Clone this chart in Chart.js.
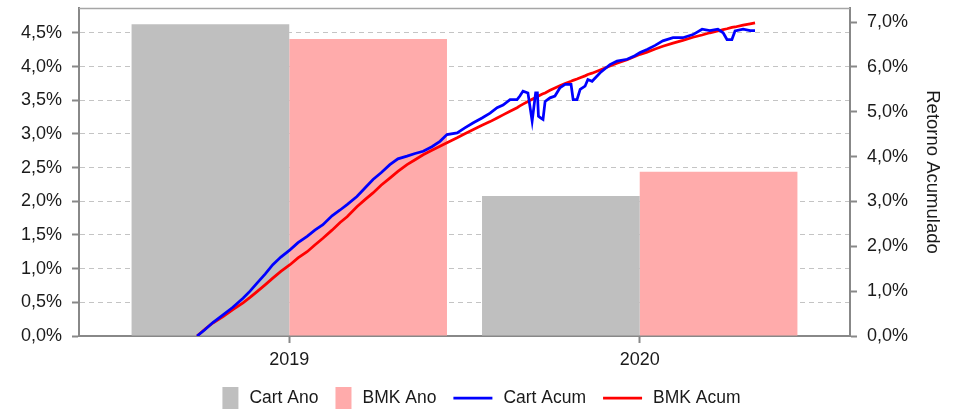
<!DOCTYPE html>
<html><head><meta charset="utf-8">
<script src="https://cdn.jsdelivr.net/npm/chart.js@4.4.1/dist/chart.umd.min.js"></script>
<style>html,body{margin:0;padding:0;background:#fff;}#wrap{width:957px;height:409px;}</style>
</head><body><div id="wrap"><canvas id="c" width="957" height="409"></canvas></div>
<script>
// ---- data ----
const years = [2019, 2020];
const cartAno = [4.63, 2.08];
const bmkAno = [4.41, 2.44];
const leftTicks = [0, 0.5, 1, 1.5, 2, 2.5, 3, 3.5, 4, 4.5];
const rightTicks = [0, 1, 2, 3, 4, 5, 6, 7];
// dates as fractional years
const lineDates = [2018.737,2018.759,2018.782,2018.811,2018.839,2018.868,2018.888,2018.908,2018.931,2018.953,2018.976,
2019.002,2019.025,2019.051,2019.073,2019.096,2019.122,2019.145,2019.165,2019.193,2019.216,2019.239,2019.262,2019.287,
2019.310,2019.336,2019.359,2019.382,2019.407,2019.430,2019.450,2019.479,2019.501,2019.524,2019.550,2019.573,2019.593,
2019.610,2019.630,2019.650,2019.658,2019.667,2019.681,2019.693,2019.703,2019.708,2019.711,2019.718,2019.724,2019.730,
2019.744,2019.758,2019.772,2019.787,2019.804,2019.810,2019.821,2019.830,2019.844,2019.852,2019.864,2019.887,2019.915,
2019.935,2019.964,2019.986,2020.001,2020.021,2020.044,2020.066,2020.095,2020.123,2020.152,2020.178,2020.200,2020.223,
2020.238,2020.249,2020.263,2020.272,2020.295,2020.315,2020.329];
const cartAcum = [0.00,0.14,0.30,0.47,0.64,0.84,1.00,1.18,1.38,1.59,1.76,
1.92,2.08,2.22,2.36,2.48,2.68,2.81,2.93,3.11,3.30,3.49,3.64,3.82,
3.95,4.01,4.07,4.12,4.22,4.34,4.49,4.53,4.64,4.75,4.86,4.97,5.09,
5.15,5.27,5.27,5.35,5.46,5.42,4.79,5.42,5.42,4.90,4.86,4.83,5.23,
5.31,5.35,5.53,5.61,5.61,5.27,5.27,5.50,5.57,5.72,5.68,5.87,6.05,
6.13,6.17,6.25,6.32,6.39,6.48,6.58,6.65,6.65,6.72,6.84,6.81,6.84,
6.76,6.61,6.61,6.80,6.84,6.81,6.81];
const bmkAcum = [0.00,0.15,0.29,0.43,0.59,0.74,0.86,0.99,1.14,1.29,1.44,
1.59,1.74,1.88,2.03,2.18,2.36,2.53,2.66,2.88,3.04,3.19,3.36,3.52,
3.67,3.82,3.93,4.04,4.14,4.23,4.31,4.42,4.51,4.60,4.70,4.78,4.86,
4.93,5.01,5.09,5.13,5.17,5.23,5.28,5.32,5.34,5.35,5.38,5.40,5.42,
5.48,5.53,5.58,5.63,5.68,5.70,5.73,5.76,5.80,5.83,5.86,5.93,6.02,
6.08,6.16,6.23,6.28,6.33,6.40,6.46,6.53,6.59,6.66,6.71,6.76,6.80,
6.83,6.85,6.88,6.89,6.93,6.96,6.98];

const FONT = '"Liberation Sans", Arial, sans-serif';
const AXIS = '#888888';
const TXT = '#1a1a1a';
const pct = v => Number(v).toFixed(1).replace('.', ',') + '%';
const noPad = s => { s.paddingTop = 0; s.paddingBottom = 0; s.paddingLeft = 0; s.paddingRight = 0; };

const frameAndLegend = {
  id: 'frameAndLegend',
  afterDraw(chart) {
    const ctx = chart.ctx, a = chart.chartArea;
    ctx.save();
    ctx.strokeStyle = '#a6a6a6';
    ctx.lineWidth = 1.5;
    ctx.beginPath();
    ctx.moveTo(a.left, a.top + 0.5);
    ctx.lineTo(a.right, a.top + 0.5);
    ctx.stroke();
    // legend
    ctx.font = '17.5px ' + FONT;
    ctx.textBaseline = 'middle';
    ctx.textAlign = 'left';
    const items = chart.data.datasets.map(ds => ({
      text: ds.label,
      line: ds.type === 'line',
      color: ds.type === 'line' ? ds.borderColor : ds.backgroundColor
    }));
    const boxW = 16, boxH = 22, lineW = 39, gapText = 11, gapItem = 17;
    let total = 0;
    items.forEach((it, i) => {
      it.sw = it.line ? lineW : boxW;
      it.tw = ctx.measureText(it.text).width;
      total += it.sw + gapText + it.tw + (i < items.length - 1 ? gapItem : 0);
    });
    let x = chart.width / 2 - total / 2 + 3;
    const cy = 398;
    items.forEach(it => {
      if (it.line) {
        ctx.strokeStyle = it.color;
        ctx.lineWidth = 2.75;
        ctx.beginPath();
        ctx.moveTo(x, cy);
        ctx.lineTo(x + it.sw, cy);
        ctx.stroke();
      } else {
        ctx.fillStyle = it.color;
        ctx.fillRect(x, cy - boxH / 2, it.sw, boxH);
      }
      x += it.sw + gapText;
      ctx.fillStyle = TXT;
      ctx.fillText(it.text, x, cy);
      x += it.tw + gapItem;
    });
    ctx.restore();
  }
};

new Chart(document.getElementById('c'), {
  type: 'bar',
  data: {
    datasets: [
      { type: 'bar', label: 'Cart Ano', data: years.map((y, i) => ({x: y, y: cartAno[i]})),
        backgroundColor: '#bfbfbf', xAxisID: 'x', yAxisID: 'y', order: 3,
        categoryPercentage: 0.9, barPercentage: 1.0 },
      { type: 'bar', label: 'BMK Ano', data: years.map((y, i) => ({x: y, y: bmkAno[i]})),
        backgroundColor: '#ffabab', xAxisID: 'x', yAxisID: 'y', order: 3,
        categoryPercentage: 0.9, barPercentage: 1.0 },
      { type: 'line', label: 'Cart Acum', data: lineDates.map((d, i) => ({x: d, y: cartAcum[i]})),
        borderColor: '#0000ff', backgroundColor: '#0000ff', borderWidth: 2.75, pointRadius: 0,
        tension: 0, fill: false, xAxisID: 'x', yAxisID: 'y1', order: 1 },
      { type: 'line', label: 'BMK Acum', data: lineDates.map((d, i) => ({x: d, y: bmkAcum[i]})),
        borderColor: '#ff0000', backgroundColor: '#ff0000', borderWidth: 2.75, pointRadius: 0,
        tension: 0, fill: false, xAxisID: 'x', yAxisID: 'y1', order: 2 }
    ]
  },
  options: {
    responsive: false,
    animation: false,
    events: [],
    layout: { padding: { top: 8, left: 0, right: 0, bottom: 0 } },
    plugins: { legend: { display: false }, tooltip: { enabled: false } },
    scales: {
      x: {
        type: 'linear', position: 'bottom', min: 2018.4, max: 2020.6, offset: false,
        afterBuildTicks: s => { s.ticks = years.map(v => ({value: v})); },
        afterFit: s => { s.height = 73; noPad(s); },
        ticks: { callback: v => String(v), font: { size: 18, family: FONT }, color: TXT,
                 padding: 6, maxRotation: 0, autoSkip: false },
        grid: { offset: false, drawOnChartArea: false, drawTicks: true, tickLength: 7, tickColor: AXIS, tickWidth: 2 },
        border: { color: AXIS, width: 2 }
      },
      y: {
        position: 'left', min: 0, max: 4.871,
        afterBuildTicks: s => { s.ticks = leftTicks.map(v => ({value: v})); },
        afterFit: s => { s.width = 79; noPad(s); },
        ticks: { callback: v => pct(v), font: { size: 18, family: FONT }, color: TXT, padding: 10 },
        grid: { color: '#c4c4c4', lineWidth: 1, tickLength: 7, tickColor: AXIS, tickWidth: 2 },
        border: { color: AXIS, width: 2, dash: [5, 4] }
      },
      y1: {
        position: 'right', min: 0, max: 7.313,
        afterBuildTicks: s => { s.ticks = rightTicks.map(v => ({value: v})); },
        afterFit: s => { s.width = 107; noPad(s); },
        ticks: { callback: v => pct(v), font: { size: 18, family: FONT }, color: TXT, padding: 10 },
        grid: { drawOnChartArea: false, tickLength: 7, tickColor: AXIS, tickWidth: 2 },
        border: { color: AXIS, width: 2 },
        title: { display: true, text: 'Retorno Acumulado', font: { size: 18.5, family: FONT }, color: TXT,
                 padding: { top: 14, bottom: 14 } }
      }
    }
  },
  plugins: [frameAndLegend]
});
</script></body></html>
